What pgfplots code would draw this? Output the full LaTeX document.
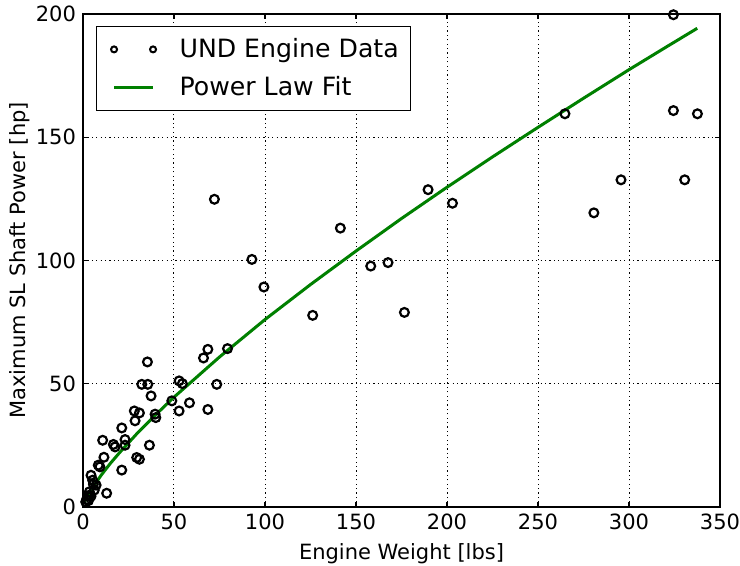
\documentclass[border=0pt]{standalone}
\usepackage{fontspec}
\setmainfont{DejaVu Sans}
\usepackage{pgfplots}
\pgfplotsset{compat=1.18}
\definecolor{fitgreen}{HTML}{008000}

\begin{document}
\begin{tikzpicture}
\begin{axis}[
  scale only axis,
  width=318.5pt, height=246.4pt,
  xmin=0, xmax=350, ymin=0, ymax=200,
  xtick={0,50,...,350}, ytick={0,50,...,200},
  /pgf/number format/assume math mode=true,
  tick label style={font=\fontsize{10.5}{12}\selectfont},
  label style={font=\fontsize{10.5}{12}\selectfont},
  xlabel={Engine Weight [lbs]},
  ylabel={Maximum SL Shaft Power [hp]},
  ylabel style={yshift=-4pt},
  axis line style={line width=0.9pt},
  major tick length=2.5pt,
  tick style={black, line width=0.6pt},
  grid=major,
  major grid style={black, line width=0.5pt, dash pattern=on 0.6pt off 1.6pt},
  legend style={at={(rel axis cs:0.0205,0.976)}, anchor=north west,
    draw=black, line width=0.5pt, fill=white,
    font=\fontsize{12.6}{15}\selectfont,
    inner xsep=4pt, inner ysep=4pt, row sep=4pt},
  legend cell align=left,
]
\addplot[only marks, mark=o, mark size=2.2pt, black, line width=1.1pt,
  legend image code/.code={\path (-4pt,0pt) (30pt,0pt);
    \draw[black, line width=1pt, mark size=1.5pt]
    plot[only marks, mark=o] coordinates {(0pt,0pt) (19.5pt,0pt)};}]
  coordinates {
  (1.5,2.0) (2.0,3.0) (2.6,4.2) (3.0,2.5) (3.5,4.7) (3.5,6.1) (4.4,4.3)
  (4.4,12.8) (5.3,10.8) (5.7,9.2) (6.2,6.8) (7.2,8.8) (13.0,5.5)
  (8.4,16.9) (9.3,16.2) (11.5,20.1) (10.8,27.0) (16.7,25.3) (17.6,24.3)
  (21.3,14.9) (21.3,32.0) (23.1,27.3) (23.1,25.0) (28.2,38.9) (31.0,38.1)
  (28.6,34.9) (29.5,20.0) (31.0,19.3) (32.3,49.7) (35.6,49.7) (35.4,58.8)
  (37.4,45.0) (36.5,25.0) (39.6,37.6) (40.0,36.2) (48.8,43.0) (52.8,51.1)
  (54.6,50.0) (52.8,38.9) (58.5,42.2) (66.2,60.4) (68.6,63.9) (79.4,64.2)
  (73.5,49.7) (68.6,39.5) (72.2,124.8) (92.8,100.4) (99.4,89.2)
  (126.2,77.7) (141.4,113.1) (158.1,97.7) (167.6,99.1) (176.6,78.9)
  (189.6,128.7) (203.0,123.2) (264.8,159.5) (280.7,119.3) (295.6,132.7)
  (324.4,160.8) (330.6,132.7) (337.6,159.5) (324.4,199.7)
  };
\addlegendentry{UND Engine Data\hspace{8pt}}
\addplot[fitgreen, line width=1.5pt, no marks,
  legend image code/.code={\path (-4pt,0pt) (30pt,0pt);
    \draw[fitgreen, line width=1.5pt] (0pt,0pt) -- (19.5pt,0pt);}]
  coordinates {
  (1,2.17) (2,3.71) (3,5.07) (5,7.52) (10,12.84) (15,17.6) (20,21.9)
  (30,30.0) (40,37.4) (50,44.5) (75,60.8) (100,76.0) (125,90.2)
  (150,103.8) (175,117.0) (200,129.7) (225,142.0) (250,154.0)
  (275,165.8) (300,177.4) (320,186.4) (337.5,194.2)
  };
\addlegendentry{Power Law Fit}
\coordinate (bbsw) at (rel axis cs:-0.1303,-0.1185);
\coordinate (bbne) at (rel axis cs:1.0314,1.0284);
\end{axis}
\pgfresetboundingbox
\useasboundingbox (bbsw) rectangle (bbne);
\end{tikzpicture}
\end{document}
